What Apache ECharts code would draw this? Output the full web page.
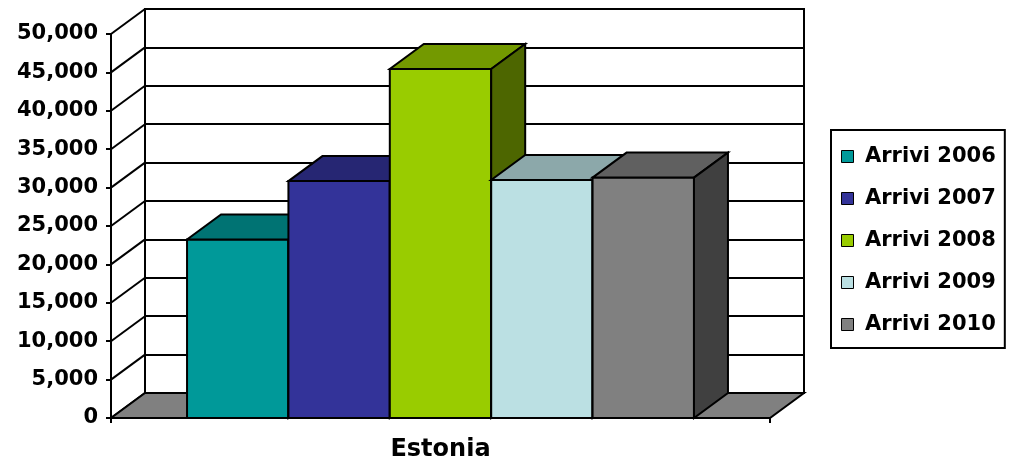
<!DOCTYPE html>
<html>
<head>
<meta charset="utf-8">
<script src="https://cdn.jsdelivr.net/npm/echarts@6/dist/echarts.min.js"></script>
<style>
  html, body { margin: 0; padding: 0; background: #fff; }
  #chart { width: 1009px; height: 461px; }
</style>
</head>
<body>
<div id="chart"></div>
<script>
// data
const categories = ['Estonia']
const seriesNames = ['Arrivi 2006', 'Arrivi 2007', 'Arrivi 2008', 'Arrivi 2009', 'Arrivi 2010']
const arrivi2006 = [23250]
const arrivi2007 = [30850]
const arrivi2008 = [45450]
const arrivi2009 = [31000]
const arrivi2010 = [31300]
const yTicks = [0, 5000, 10000, 15000, 20000, 25000, 30000, 35000, 40000, 45000, 50000]

const seriesValues = [arrivi2006, arrivi2007, arrivi2008, arrivi2009, arrivi2010]
const frontColors = ['#009999', '#333399', '#99cc00', '#bbe0e3', '#808080']
const topColors = ['#007373', '#262673', '#739900', '#8ca8aa', '#606060']
const sideColors = ['#004d4d', '#1a1a4d', '#4d6600', '#5e7072', '#404040']

// 3d depth offset in px (back plane is up and to the right)
const DX = 34
const DY = 25
const EDGE = { stroke: '#000', lineWidth: 2 }

function fmt(v) {
  return String(v).replace(/\B(?=(\d{3})+(?!\d))/g, ',')
}

function barItem(i) {
  return function (params, api) {
    const top = api.coord([api.value(0), api.value(1)])
    const base = api.coord([api.value(0), 0])
    const bw = api.size([1, 0])[0] / 6.5
    const x0 = top[0] - 2.5 * bw + i * bw
    const x1 = x0 + bw
    const yt = top[1]
    const yb = base[1]
    return {
      type: 'group',
      children: [
        { type: 'polygon', shape: { points: [[x0, yt], [x1, yt], [x1, yb], [x0, yb]] },
          style: Object.assign({ fill: frontColors[i] }, EDGE) },
        { type: 'polygon', shape: { points: [[x0, yt], [x1, yt], [x1 + DX, yt - DY], [x0 + DX, yt - DY]] },
          style: Object.assign({ fill: topColors[i] }, EDGE) },
        { type: 'polygon', shape: { points: [[x1, yt], [x1 + DX, yt - DY], [x1 + DX, yb - DY], [x1, yb]] },
          style: Object.assign({ fill: sideColors[i] }, EDGE) }
      ]
    }
  }
}

// diagonal lines on the left side wall
function sideWallItem(params, api) {
  const p = api.coord([0, api.value(1)])
  const left = p[0] - api.size([1, 0])[0] / 2
  return {
    type: 'line',
    shape: { x1: left, y1: p[1], x2: left + DX, y2: p[1] - DY },
    style: { stroke: '#000', lineWidth: 2 }
  }
}

// grey floor
function floorItem(params, api) {
  const p = api.coord([0, 0])
  const w = api.size([1, 0])[0]
  const l = p[0] - w / 2
  const r = p[0] + w / 2
  const y = p[1]
  return {
    type: 'polygon',
    shape: { points: [[l, y], [r, y], [r + DX, y - DY], [l + DX, y - DY]] },
    style: Object.assign({ fill: '#808080' }, EDGE)
  }
}

const chart = echarts.init(document.getElementById('chart'))

const series = [
  {
    name: 'sideWall',
    type: 'custom',
    xAxisIndex: 0,
    yAxisIndex: 0,
    z: 1,
    silent: true,
    renderItem: sideWallItem,
    data: yTicks.map(v => [0, v])
  },
  {
    name: 'floor',
    type: 'custom',
    xAxisIndex: 0,
    yAxisIndex: 0,
    z: 2,
    silent: true,
    renderItem: floorItem,
    data: [[0, 0]]
  }
]
seriesNames.forEach((name, i) => {
  series.push({
    name: name,
    type: 'custom',
    xAxisIndex: 0,
    yAxisIndex: 0,
    z: 3,
    itemStyle: { color: frontColors[i] },
    renderItem: barItem(i),
    data: seriesValues[i].map((v, k) => [k, v])
  })
})

chart.setOption({
  backgroundColor: '#fff',
  animation: false,
  grid: [
    { left: 111, right: 239, top: 34, bottom: 43, outerBoundsMode: 'none' },
    {
      left: 111 + DX, right: 239 - DX, top: 34 - DY, bottom: 43 + DY, outerBoundsMode: 'none',
      show: true, backgroundColor: '#fff', borderColor: '#000', borderWidth: 2, z: 0
    }
  ],
  legend: {
    data: seriesNames,
    orient: 'vertical',
    left: 831,
    top: 130,
    padding: [16, 9, 13, 10],
    itemGap: 21,
    itemWidth: 25,
    itemHeight: 12,
    icon: 'path://M0,0h10v10h-10z',
    borderColor: '#000',
    borderWidth: 2,
    itemStyle: { borderColor: '#000', borderWidth: 1 },
    textStyle: {
      fontFamily: 'DejaVu Sans',
      fontWeight: 'bold',
      fontSize: 21,
      lineHeight: 20,
      color: '#000'
    }
  },
  xAxis: [
    {
      type: 'category',
      gridIndex: 0,
      data: categories,
      axisLine: { lineStyle: { color: '#000', width: 2 } },
      axisTick: { show: true, length: 5, lineStyle: { color: '#000', width: 2 } },
      axisLabel: {
        margin: 20,
        color: '#000',
        fontFamily: 'DejaVu Sans',
        fontWeight: 'bold',
        fontSize: 24
      },
      z: 5
    },
    { type: 'value', gridIndex: 1, min: 0, max: 1, show: false }
  ],
  yAxis: [
    {
      type: 'value',
      gridIndex: 0,
      min: 0,
      max: 50000,
      interval: 5000,
      axisLine: { show: true, lineStyle: { color: '#000', width: 2 } },
      axisTick: { show: true, length: 5, lineStyle: { color: '#000', width: 2 } },
      splitLine: { show: false },
      axisLabel: {
        margin: 13,
        color: '#000',
        fontFamily: 'DejaVu Sans',
        fontWeight: 'bold',
        fontSize: 21,
        formatter: fmt
      },
      z: 5
    },
    {
      type: 'value',
      gridIndex: 1,
      min: 0,
      max: 50000,
      interval: 5000,
      axisLine: { show: false },
      axisTick: { show: false },
      axisLabel: { show: false },
      splitLine: { show: true, lineStyle: { color: '#000', width: 2 } }
    }
  ],
  series: series
})
</script>
</body>
</html>
